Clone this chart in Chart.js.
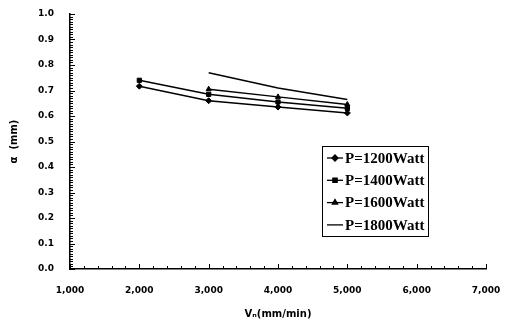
<!DOCTYPE html>
<html>
<head>
<meta charset="utf-8">
<script src="https://cdn.jsdelivr.net/npm/chart.js@4.4.1/dist/chart.umd.min.js"></script>
<style>
  html, body { margin: 0; padding: 0; background: #fff; }
  #wrap { width: 505px; height: 325px; }
</style>
</head>
<body>
<div id="wrap"><canvas id="plot"></canvas></div>
<script>
// speeds (mm/min) and a (mm)
const speeds = [2000, 3000, 4000, 5000]
const p1200 = [0.717, 0.660, 0.635, 0.612]
const p1400 = [0.740, 0.685, 0.655, 0.630]
const p1600 = [null, 0.705, 0.675, 0.645]
const p1800 = [null, 0.770, 0.710, 0.665]
const labels = ['P=1200Watt', 'P=1400Watt', 'P=1600Watt', 'P=1800Watt']
const markers = ['rectRot', 'rect', 'triangle', 'line']

const tickFont = { family: 'DejaVu Sans', size: 9, weight: 'bold' }

function pts(vals) {
    return speeds.map((x, i) => ({ x: x, y: vals[i] })).filter(p => p.y !== null)
}

const series = [p1200, p1400, p1600, p1800]

// small ticks drawn on the inside of both axes
const innerTicks = {
    id: 'innerTicks',
    afterDraw(chart) {
        const ctx = chart.ctx
        const xs = chart.scales.x, ys = chart.scales.y
        ctx.save()
        ctx.strokeStyle = '#000'
        ctx.lineWidth = 1
        ctx.beginPath()
        for (let v = 1000; v <= 7000; v += 200) {
            const px = Math.round(xs.getPixelForValue(v)) + 0.5
            const len = v % 1000 === 0 ? 5 : 3
            ctx.moveTo(px, ys.bottom)
            ctx.lineTo(px, ys.bottom - len)
        }
        for (let i = 0; i <= 100; i++) {
            const py = Math.round(ys.getPixelForValue(i / 100)) + 0.5
            const len = i % 10 === 0 ? 5 : 3
            ctx.moveTo(xs.left, py)
            ctx.lineTo(xs.left + len, py)
        }
        ctx.stroke()
        ctx.restore()
    }
}

// legend box placed inside the plot
const boxLegend = {
    id: 'boxLegend',
    afterDraw(chart) {
        const ctx = chart.ctx
        const x0 = 322, y0 = 146, w = 106, h = 90
        ctx.save()
        ctx.fillStyle = '#fff'
        ctx.fillRect(x0, y0, w, h)
        ctx.strokeStyle = '#000'
        ctx.lineWidth = 1
        ctx.strokeRect(x0 + 0.5, y0 + 0.5, w, h)
        ctx.font = 'bold 15px "Liberation Serif"'
        ctx.textBaseline = 'middle'
        ctx.fillStyle = '#000'
        chart.data.datasets.forEach((ds, i) => {
            const cy = y0 + 12 + i * 22.3
            ctx.beginPath()
            ctx.lineWidth = 1.3
            ctx.moveTo(x0 + 5, cy)
            ctx.lineTo(x0 + 21, cy)
            ctx.stroke()
            if (ds.pointStyle !== 'line') {
                Chart.helpers.drawPoint(ctx, { pointStyle: ds.pointStyle, radius: 3, rotation: 0, borderWidth: 1 }, x0 + 13, cy)
                ctx.fill()
            }
            ctx.fillText(ds.label, x0 + 23, cy + 1)
        })
        ctx.restore()
    }
}

new Chart(document.getElementById('plot'), {
    type: 'line',
    data: {
        datasets: series.map((vals, i) => ({
            label: labels[i],
            data: pts(vals),
            borderColor: '#000',
            backgroundColor: '#000',
            borderWidth: 1.5,
            pointStyle: markers[i],
            pointRadius: markers[i] === 'line' ? 0 : 3,
            pointBorderWidth: 1,
            tension: 0
        }))
    },
    options: {
        responsive: true,
        maintainAspectRatio: false,
        animation: false,
        layout: { padding: { left: 0, right: 19, top: 14, bottom: 0 } },
        plugins: {
            legend: { display: false },
            tooltip: { enabled: false }
        },
        scales: {
            x: {
                type: 'linear',
                min: 1000,
                max: 7000,
                grid: { display: false },
                border: { display: true, color: '#000', width: 1.5 },
                afterFit(s) { s.height = 56; s.paddingLeft = 0; s.paddingRight = 0 },
                ticks: {
                    stepSize: 1000,
                    color: '#000',
                    font: tickFont,
                    padding: 8,
                    maxRotation: 0,
                    callback: v => v.toLocaleString('en-US')
                },
                title: {
                    display: true,
                    text: 'Vₙ(mm/min)',
                    color: '#000',
                    font: { family: 'DejaVu Sans', size: 10, weight: 'bold' },
                    padding: { top: 8, bottom: 5 }
                }
            },
            y: {
                min: 0,
                max: 1,
                grid: { display: false },
                border: { display: true, color: '#000', width: 1.5 },
                afterFit(s) { s.width = 70; s.paddingTop = 0; s.paddingBottom = 0 },
                ticks: {
                    stepSize: 0.1,
                    color: '#000',
                    font: tickFont,
                    padding: 8,
                    callback: v => v.toFixed(1)
                },
                title: {
                    display: true,
                    text: 'α  (mm)',
                    color: '#000',
                    font: { family: 'DejaVu Sans', size: 10, weight: 'bold' },
                    padding: { top: 8, bottom: 0 }
                }
            }
        }
    },
    plugins: [innerTicks, boxLegend]
})
</script>
</body>
</html>
